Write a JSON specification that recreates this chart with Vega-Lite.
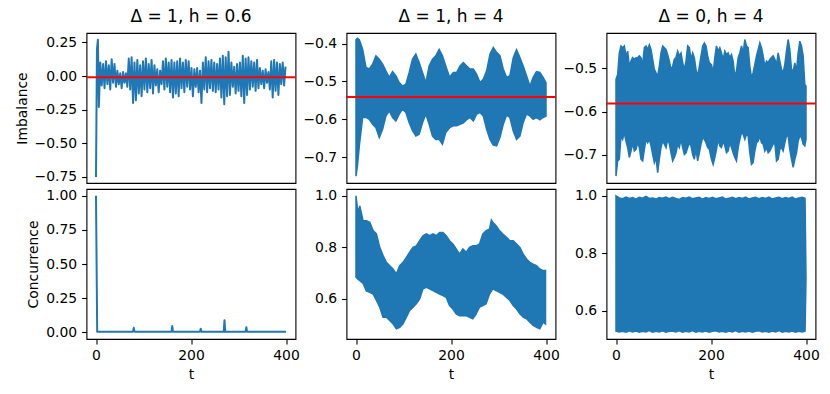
{
"$schema": "https://vega.github.io/schema/vega-lite/v6.json",
"background": "white",
"padding": {"left": 14.5, "top": 7, "right": 5, "bottom": 5},
"config": {
 "font": "DejaVu Sans",
 "view": {"stroke": "black", "strokeWidth": 1.1},
 "axis": {"grid": false, "domain": false, "labelFont": "DejaVu Sans", "labelFontSize": 13.9, "labelColor": "black", "labelOverlap": false, "labelBound": false, "tickColor": "black", "tickSize": 4.9, "tickWidth": 1.1, "labelPadding": 4.9, "labelFlush": false, "titleFont": "DejaVu Sans", "titleFontSize": 13.9, "titleFontWeight": "normal", "titleColor": "black", "titlePadding": 5},
 "title": {"font": "DejaVu Sans", "fontSize": 17, "fontWeight": "normal", "color": "black", "offset": 7}
},
"datasets": {
 "p1": [
{"t":0,"v":-0.75},{"t":2,"v":0.2},{"t":4,"v":0.27},{"t":6,"v":-0.23},
{"t":9,"v":0.10},{"t":12,"v":-0.07},{"t":15,"v":0.09},{"t":18,"v":-0.09},{"t":21,"v":0.11},{"t":24,"v":-0.06},{"t":27,"v":0.08},{"t":30,"v":-0.10},{"t":33,"v":0.125},{"t":36,"v":-0.05},{"t":39,"v":0.09},{"t":42,"v":-0.08},{"t":45,"v":0.04},{"t":48,"v":-0.06},{"t":51,"v":0.02},{"t":54,"v":-0.09},{"t":57,"v":0.03},{"t":60,"v":-0.05},{"t":63,"v":0.02},{"t":66,"v":-0.08},{"t":69,"v":0.13},{"t":72,"v":-0.10},{"t":75,"v":0.14},{"t":78,"v":-0.20},{"t":81,"v":0.10},{"t":84,"v":-0.18},{"t":87,"v":0.12},{"t":90,"v":-0.13},{"t":93,"v":0.08},{"t":96,"v":-0.15},{"t":99,"v":0.11},{"t":102,"v":-0.10},{"t":105,"v":0.13},{"t":108,"v":-0.12},{"t":111,"v":0.09},{"t":114,"v":-0.09},{"t":117,"v":0.12},{"t":120,"v":-0.13},{"t":123,"v":0.08},{"t":126,"v":-0.07},{"t":129,"v":0.05},{"t":132,"v":-0.12},{"t":135,"v":0.04},{"t":138,"v":-0.06},{"t":141,"v":0.11},{"t":144,"v":-0.10},{"t":147,"v":0.13},{"t":150,"v":-0.08},{"t":153,"v":0.10},{"t":156,"v":-0.12},{"t":159,"v":0.12},{"t":162,"v":-0.16},{"t":165,"v":0.10},{"t":168,"v":-0.13},{"t":171,"v":0.11},{"t":174,"v":-0.15},{"t":177,"v":0.13},{"t":180,"v":-0.09},{"t":183,"v":0.10},{"t":186,"v":-0.12},{"t":189,"v":0.12},{"t":192,"v":-0.08},{"t":195,"v":0.11},{"t":198,"v":-0.10},
{"t":201,"v":0.06},{"t":204,"v":-0.15},{"t":207,"v":0.05},{"t":210,"v":-0.08},{"t":213,"v":0.06},{"t":216,"v":-0.12},{"t":219,"v":0.04},{"t":222,"v":-0.20},{"t":225,"v":0.10},{"t":228,"v":-0.10},{"t":231,"v":0.14},{"t":234,"v":-0.12},{"t":237,"v":0.11},{"t":240,"v":-0.09},{"t":243,"v":0.12},{"t":246,"v":-0.11},{"t":249,"v":0.10},{"t":252,"v":-0.12},{"t":255,"v":0.09},{"t":258,"v":-0.10},{"t":261,"v":0.13},{"t":264,"v":-0.16},{"t":267,"v":0.15},{"t":270,"v":-0.21},{"t":273,"v":0.14},{"t":276,"v":-0.15},{"t":279,"v":0.18},{"t":282,"v":-0.14},{"t":285,"v":0.10},{"t":288,"v":-0.08},{"t":291,"v":0.07},{"t":294,"v":-0.13},{"t":297,"v":0.09},{"t":300,"v":-0.11},{"t":303,"v":0.10},{"t":306,"v":-0.15},{"t":309,"v":0.15},{"t":312,"v":-0.20},{"t":315,"v":0.13},{"t":318,"v":-0.14},{"t":321,"v":0.14},{"t":324,"v":-0.10},{"t":327,"v":0.11},{"t":330,"v":-0.08},{"t":333,"v":0.10},{"t":336,"v":-0.11},{"t":339,"v":0.12},{"t":342,"v":-0.09},{"t":345,"v":0.06},{"t":348,"v":-0.06},{"t":351,"v":0.04},{"t":354,"v":-0.09},{"t":357,"v":0.05},{"t":360,"v":-0.05},{"t":363,"v":0.03},{"t":366,"v":-0.10},{"t":369,"v":0.11},{"t":372,"v":-0.16},{"t":375,"v":0.12},{"t":378,"v":-0.11},{"t":381,"v":0.10},{"t":384,"v":-0.14},{"t":387,"v":0.09},{"t":390,"v":-0.06},{"t":393,"v":0.10},{"t":396,"v":-0.07},{"t":399,"v":0.07}
 ],
 "p2": [
{"t":0,"hi":-0.390,"lo":-0.750},{"t":3,"hi":-0.386,"lo":-0.723},{"t":7,"hi":-0.390,"lo":-0.670},{"t":14,"hi":-0.415,"lo":-0.595},{"t":21,"hi":-0.463,"lo":-0.595},{"t":28,"hi":-0.467,"lo":-0.600},{"t":35,"hi":-0.454,"lo":-0.613},{"t":42,"hi":-0.432,"lo":-0.622},{"t":49,"hi":-0.441,"lo":-0.648},{"t":56,"hi":-0.454,"lo":-0.626},{"t":63,"hi":-0.472,"lo":-0.591},{"t":70,"hi":-0.489,"lo":-0.578},{"t":77,"hi":-0.474,"lo":-0.595},{"t":84,"hi":-0.485,"lo":-0.604},{"t":91,"hi":-0.503,"lo":-0.586},{"t":98,"hi":-0.512,"lo":-0.573},{"t":105,"hi":-0.507,"lo":-0.582},{"t":112,"hi":-0.476,"lo":-0.609},{"t":119,"hi":-0.441,"lo":-0.630},{"t":126,"hi":-0.428,"lo":-0.644},{"t":133,"hi":-0.450,"lo":-0.639},{"t":140,"hi":-0.476,"lo":-0.609},{"t":147,"hi":-0.503,"lo":-0.586},{"t":154,"hi":-0.459,"lo":-0.613},{"t":161,"hi":-0.441,"lo":-0.644},{"t":168,"hi":-0.432,"lo":-0.653},{"t":175,"hi":-0.415,"lo":-0.653},{"t":182,"hi":-0.432,"lo":-0.666},{"t":189,"hi":-0.459,"lo":-0.635},{"t":197,"hi":-0.489,"lo":-0.622},{"t":205,"hi":-0.476,"lo":-0.617},{"t":212,"hi":-0.476,"lo":-0.617},{"t":219,"hi":-0.459,"lo":-0.613},{"t":226,"hi":-0.450,"lo":-0.609},{"t":233,"hi":-0.459,"lo":-0.601},{"t":240,"hi":-0.467,"lo":-0.595},{"t":247,"hi":-0.467,"lo":-0.604},{"t":254,"hi":-0.481,"lo":-0.586},{"t":261,"hi":-0.503,"lo":-0.582},{"t":268,"hi":-0.494,"lo":-0.591},{"t":275,"hi":-0.472,"lo":-0.626},{"t":282,"hi":-0.428,"lo":-0.653},{"t":289,"hi":-0.410,"lo":-0.668},{"t":296,"hi":-0.423,"lo":-0.670},{"t":303,"hi":-0.432,"lo":-0.648},{"t":310,"hi":-0.467,"lo":-0.613},{"t":317,"hi":-0.489,"lo":-0.589},{"t":324,"hi":-0.485,"lo":-0.595},{"t":331,"hi":-0.437,"lo":-0.631},{"t":338,"hi":-0.416,"lo":-0.653},{"t":345,"hi":-0.437,"lo":-0.644},{"t":352,"hi":-0.459,"lo":-0.608},{"t":359,"hi":-0.485,"lo":-0.586},{"t":366,"hi":-0.512,"lo":-0.591},{"t":373,"hi":-0.489,"lo":-0.600},{"t":380,"hi":-0.474,"lo":-0.595},{"t":387,"hi":-0.476,"lo":-0.601},{"t":394,"hi":-0.489,"lo":-0.595},{"t":400,"hi":-0.503,"lo":-0.591}
 ],
 "p3": [
{"t":0,"hi":-0.525,"lo":-0.749},{"t":3.5,"hi":-0.514,"lo":-0.714},{"t":7,"hi":-0.464,"lo":-0.710},{"t":10.5,"hi":-0.448,"lo":-0.656},{"t":14,"hi":-0.452,"lo":-0.664},{"t":17.5,"hi":-0.448,"lo":-0.649},{"t":21,"hi":-0.471,"lo":-0.668},{"t":24.6,"hi":-0.460,"lo":-0.683},{"t":28,"hi":-0.495,"lo":-0.706},{"t":31.6,"hi":-0.483,"lo":-0.691},{"t":35.1,"hi":-0.475,"lo":-0.672},{"t":38.6,"hi":-0.479,"lo":-0.691},{"t":42.1,"hi":-0.475,"lo":-0.687},{"t":45.6,"hi":-0.475,"lo":-0.672},{"t":49.1,"hi":-0.471,"lo":-0.683},{"t":52.6,"hi":-0.475,"lo":-0.710},{"t":56.1,"hi":-0.491,"lo":-0.714},{"t":59.7,"hi":-0.452,"lo":-0.687},{"t":63.2,"hi":-0.448,"lo":-0.664},{"t":66.7,"hi":-0.456,"lo":-0.672},{"t":70.2,"hi":-0.445,"lo":-0.664},{"t":73.7,"hi":-0.456,"lo":-0.679},{"t":77.2,"hi":-0.479,"lo":-0.699},{"t":80.7,"hi":-0.502,"lo":-0.718},{"t":84.2,"hi":-0.510,"lo":-0.706},{"t":87.7,"hi":-0.518,"lo":-0.741},{"t":91.2,"hi":-0.495,"lo":-0.710},{"t":94.7,"hi":-0.464,"lo":-0.683},{"t":98.3,"hi":-0.448,"lo":-0.668},{"t":101.8,"hi":-0.452,"lo":-0.675},{"t":105.3,"hi":-0.456,"lo":-0.683},{"t":108.8,"hi":-0.468,"lo":-0.664},{"t":112.3,"hi":-0.483,"lo":-0.675},{"t":115.8,"hi":-0.502,"lo":-0.695},{"t":119.3,"hi":-0.495,"lo":-0.714},{"t":122.8,"hi":-0.479,"lo":-0.706},{"t":126.3,"hi":-0.475,"lo":-0.695},{"t":129.8,"hi":-0.460,"lo":-0.675},{"t":133.3,"hi":-0.471,"lo":-0.683},{"t":136.9,"hi":-0.464,"lo":-0.664},{"t":140.4,"hi":-0.487,"lo":-0.683},{"t":143.9,"hi":-0.502,"lo":-0.699},{"t":147.4,"hi":-0.483,"lo":-0.695},{"t":150.9,"hi":-0.448,"lo":-0.683},{"t":154.4,"hi":-0.452,"lo":-0.672},{"t":157.9,"hi":-0.479,"lo":-0.679},{"t":161.4,"hi":-0.464,"lo":-0.699},{"t":164.9,"hi":-0.475,"lo":-0.710},{"t":168.4,"hi":-0.502,"lo":-0.687},{"t":171.9,"hi":-0.518,"lo":-0.714},{"t":175.5,"hi":-0.495,"lo":-0.695},{"t":179,"hi":-0.471,"lo":-0.675},{"t":182.5,"hi":-0.448,"lo":-0.660},{"t":186,"hi":-0.441,"lo":-0.664},{"t":189.5,"hi":-0.448,"lo":-0.672},{"t":193,"hi":-0.471,"lo":-0.683},{"t":196.5,"hi":-0.487,"lo":-0.687},{"t":201,"hi":-0.491,"lo":-0.710},{"t":204.5,"hi":-0.510,"lo":-0.722},{"t":208,"hi":-0.475,"lo":-0.706},{"t":211.5,"hi":-0.448,"lo":-0.687},{"t":215,"hi":-0.460,"lo":-0.664},{"t":218.6,"hi":-0.452,"lo":-0.679},{"t":222,"hi":-0.464,"lo":-0.683},{"t":225.6,"hi":-0.479,"lo":-0.668},{"t":229.1,"hi":-0.460,"lo":-0.679},{"t":232.6,"hi":-0.468,"lo":-0.695},{"t":236.1,"hi":-0.464,"lo":-0.691},{"t":239.6,"hi":-0.475,"lo":-0.672},{"t":243.1,"hi":-0.468,"lo":-0.683},{"t":246.6,"hi":-0.483,"lo":-0.695},{"t":250.1,"hi":-0.518,"lo":-0.706},{"t":253.6,"hi":-0.506,"lo":-0.714},{"t":257.2,"hi":-0.475,"lo":-0.683},{"t":260.7,"hi":-0.464,"lo":-0.664},{"t":264.2,"hi":-0.448,"lo":-0.649},{"t":267.7,"hi":-0.464,"lo":-0.652},{"t":271.2,"hi":-0.433,"lo":-0.664},{"t":274.7,"hi":-0.448,"lo":-0.652},{"t":278.2,"hi":-0.452,"lo":-0.656},{"t":281.7,"hi":-0.495,"lo":-0.695},{"t":285.2,"hi":-0.521,"lo":-0.722},{"t":288.7,"hi":-0.510,"lo":-0.718},{"t":292.2,"hi":-0.491,"lo":-0.691},{"t":295.8,"hi":-0.471,"lo":-0.672},{"t":299.3,"hi":-0.456,"lo":-0.668},{"t":302.8,"hi":-0.441,"lo":-0.656},{"t":306.3,"hi":-0.452,"lo":-0.672},{"t":309.8,"hi":-0.471,"lo":-0.675},{"t":313.3,"hi":-0.495,"lo":-0.691},{"t":316.8,"hi":-0.483,"lo":-0.683},{"t":320.3,"hi":-0.487,"lo":-0.695},{"t":323.8,"hi":-0.479,"lo":-0.691},{"t":327.3,"hi":-0.475,"lo":-0.683},{"t":330.8,"hi":-0.471,"lo":-0.675},{"t":334.4,"hi":-0.479,"lo":-0.672},{"t":337.9,"hi":-0.491,"lo":-0.714},{"t":341.4,"hi":-0.464,"lo":-0.710},{"t":344.9,"hi":-0.483,"lo":-0.687},{"t":348.4,"hi":-0.502,"lo":-0.683},{"t":351.9,"hi":-0.510,"lo":-0.691},{"t":355.4,"hi":-0.491,"lo":-0.672},{"t":358.9,"hi":-0.460,"lo":-0.656},{"t":362.4,"hi":-0.433,"lo":-0.656},{"t":365.9,"hi":-0.456,"lo":-0.687},{"t":369.4,"hi":-0.502,"lo":-0.710},{"t":373,"hi":-0.506,"lo":-0.729},{"t":376.5,"hi":-0.487,"lo":-0.710},{"t":380,"hi":-0.506,"lo":-0.695},{"t":383.5,"hi":-0.464,"lo":-0.668},{"t":387,"hi":-0.437,"lo":-0.656},{"t":390.5,"hi":-0.448,"lo":-0.660},{"t":394,"hi":-0.471,"lo":-0.675},{"t":397.5,"hi":-0.537,"lo":-0.679},{"t":400,"hi":-0.541,"lo":-0.664}
 ],
 "p4": [
{"t":0,"v":1.0},{"t":2.5,"v":0.004},{"t":78,"v":0.004},{"t":79.5,"v":0.032},{"t":81,"v":0.004},{"t":159,"v":0.004},{"t":160.5,"v":0.045},{"t":162,"v":0.004},{"t":219,"v":0.004},{"t":220.5,"v":0.025},{"t":222,"v":0.004},{"t":269,"v":0.004},{"t":270.5,"v":0.088},{"t":272,"v":0.004},{"t":315,"v":0.004},{"t":316.5,"v":0.036},{"t":318,"v":0.004},{"t":400,"v":0.004}
 ],
 "p5": [
{"t":0,"hi":1.0,"lo":0.684},{"t":4,"hi":0.935,"lo":0.677},{"t":8,"hi":0.961,"lo":0.671},{"t":15,"hi":0.903,"lo":0.660},{"t":22,"hi":0.903,"lo":0.630},{"t":29,"hi":0.897,"lo":0.626},{"t":36,"hi":0.865,"lo":0.619},{"t":43,"hi":0.852,"lo":0.594},{"t":50,"hi":0.800,"lo":0.568},{"t":57,"hi":0.768,"lo":0.529},{"t":64,"hi":0.742,"lo":0.529},{"t":71,"hi":0.729,"lo":0.516},{"t":78,"hi":0.716,"lo":0.503},{"t":85,"hi":0.697,"lo":0.484},{"t":92,"hi":0.729,"lo":0.490},{"t":99,"hi":0.742,"lo":0.503},{"t":106,"hi":0.761,"lo":0.529},{"t":113,"hi":0.781,"lo":0.555},{"t":120,"hi":0.800,"lo":0.568},{"t":127,"hi":0.806,"lo":0.581},{"t":134,"hi":0.826,"lo":0.600},{"t":141,"hi":0.845,"lo":0.639},{"t":148,"hi":0.852,"lo":0.645},{"t":155,"hi":0.845,"lo":0.639},{"t":162,"hi":0.852,"lo":0.632},{"t":169,"hi":0.845,"lo":0.626},{"t":176,"hi":0.858,"lo":0.619},{"t":183,"hi":0.858,"lo":0.613},{"t":190,"hi":0.845,"lo":0.606},{"t":197,"hi":0.826,"lo":0.574},{"t":204,"hi":0.813,"lo":0.561},{"t":211,"hi":0.794,"lo":0.542},{"t":218,"hi":0.774,"lo":0.535},{"t":225,"hi":0.794,"lo":0.535},{"t":232,"hi":0.781,"lo":0.535},{"t":239,"hi":0.800,"lo":0.529},{"t":246,"hi":0.806,"lo":0.523},{"t":253,"hi":0.806,"lo":0.542},{"t":260,"hi":0.813,"lo":0.568},{"t":267,"hi":0.852,"lo":0.574},{"t":274,"hi":0.865,"lo":0.581},{"t":281,"hi":0.871,"lo":0.619},{"t":285,"hi":0.906,"lo":0.630},{"t":288,"hi":0.897,"lo":0.639},{"t":295,"hi":0.884,"lo":0.632},{"t":302,"hi":0.865,"lo":0.626},{"t":309,"hi":0.852,"lo":0.619},{"t":317,"hi":0.839,"lo":0.606},{"t":324,"hi":0.826,"lo":0.594},{"t":331,"hi":0.826,"lo":0.574},{"t":338,"hi":0.813,"lo":0.561},{"t":345,"hi":0.800,"lo":0.542},{"t":352,"hi":0.774,"lo":0.529},{"t":359,"hi":0.755,"lo":0.523},{"t":366,"hi":0.742,"lo":0.510},{"t":373,"hi":0.735,"lo":0.497},{"t":380,"hi":0.729,"lo":0.490},{"t":387,"hi":0.716,"lo":0.484},{"t":394,"hi":0.710,"lo":0.510},{"t":399,"hi":0.710,"lo":0.503}
 ],
 "p6": [
{"t":0,"hi":1.000,"lo":0.530},{"t":7,"hi":0.993,"lo":0.527},{"t":14,"hi":0.990,"lo":0.529},{"t":21,"hi":0.996,"lo":0.526},{"t":28,"hi":0.991,"lo":0.531},{"t":35,"hi":0.994,"lo":0.527},{"t":42,"hi":0.989,"lo":0.530},{"t":49,"hi":0.995,"lo":0.526},{"t":56,"hi":0.992,"lo":0.529},{"t":63,"hi":0.998,"lo":0.527},{"t":70,"hi":0.991,"lo":0.532},{"t":77,"hi":0.993,"lo":0.526},{"t":84,"hi":0.989,"lo":0.529},{"t":91,"hi":0.994,"lo":0.527},{"t":98,"hi":0.992,"lo":0.531},{"t":105,"hi":0.996,"lo":0.526},{"t":112,"hi":0.990,"lo":0.529},{"t":119,"hi":0.995,"lo":0.530},{"t":126,"hi":0.991,"lo":0.527},{"t":133,"hi":0.988,"lo":0.531},{"t":140,"hi":0.994,"lo":0.526},{"t":147,"hi":0.992,"lo":0.529},{"t":154,"hi":0.996,"lo":0.527},{"t":161,"hi":0.990,"lo":0.532},{"t":168,"hi":0.993,"lo":0.526},{"t":175,"hi":0.995,"lo":0.529},{"t":182,"hi":0.989,"lo":0.527},{"t":189,"hi":0.994,"lo":0.530},{"t":196,"hi":0.991,"lo":0.526},{"t":203,"hi":0.995,"lo":0.529},{"t":210,"hi":0.990,"lo":0.531},{"t":217,"hi":0.993,"lo":0.527},{"t":224,"hi":0.996,"lo":0.529},{"t":231,"hi":0.989,"lo":0.526},{"t":238,"hi":0.992,"lo":0.530},{"t":245,"hi":0.995,"lo":0.527},{"t":252,"hi":0.990,"lo":0.532},{"t":259,"hi":0.994,"lo":0.526},{"t":266,"hi":0.991,"lo":0.529},{"t":273,"hi":0.996,"lo":0.527},{"t":280,"hi":0.989,"lo":0.530},{"t":287,"hi":0.993,"lo":0.526},{"t":294,"hi":0.995,"lo":0.529},{"t":301,"hi":0.990,"lo":0.531},{"t":308,"hi":0.994,"lo":0.527},{"t":315,"hi":0.991,"lo":0.529},{"t":322,"hi":0.996,"lo":0.526},{"t":329,"hi":0.989,"lo":0.530},{"t":336,"hi":0.993,"lo":0.527},{"t":343,"hi":0.995,"lo":0.532},{"t":350,"hi":0.990,"lo":0.526},{"t":357,"hi":0.994,"lo":0.529},{"t":364,"hi":0.991,"lo":0.527},{"t":371,"hi":0.996,"lo":0.530},{"t":378,"hi":0.989,"lo":0.526},{"t":385,"hi":0.993,"lo":0.529},{"t":392,"hi":0.995,"lo":0.527},{"t":398,"hi":0.992,"lo":0.530},{"t":400,"hi":0.715,"lo":0.715}
 ]
},
"columns": 3,
"spacing": {"row": 6, "column": 51},
"bounds": "flush",
"concat": [
 {
  "width": 209, "height": 150,
  "title": "Δ = 1, h = 0.6",
  "resolve": {"axis": {"y": "independent"}},
  "layer": [
   {"data": {"name": "p1"}, "mark": {"type": "line", "color": "#1f77b4", "strokeWidth": 2, "strokeJoin": "round"},
    "encoding": {
     "x": {"field": "t", "type": "quantitative", "scale": {"domain": [-20, 420], "nice": false, "zero": false}, "axis": null},
     "y": {"field": "v", "type": "quantitative", "scale": {"domain": [-0.795, 0.32], "nice": false, "zero": false}, "axis": {"values": [-0.75, -0.5, -0.25, 0, 0.25], "format": ".2f", "title": "Imbalance", "labelOverlap": false}}}},
   {"data": {"values": [{"m": -0.009}]}, "mark": {"type": "rule", "color": "#ff0000", "strokeWidth": 2},
    "encoding": {"y": {"field": "m", "type": "quantitative", "axis": null}}}
  ]
 },
 {
  "width": 209, "height": 150,
  "title": "Δ = 1, h = 4",
  "resolve": {"axis": {"y": "independent"}},
  "layer": [
   {"data": {"name": "p2"}, "mark": {"type": "area", "color": "#1f77b4", "stroke": "#1f77b4", "strokeWidth": 1.5, "opacity": 1},
    "encoding": {
     "x": {"field": "t", "type": "quantitative", "scale": {"domain": [-20, 420], "nice": false, "zero": false}, "axis": null},
     "y": {"field": "hi", "type": "quantitative", "scale": {"domain": [-0.768, -0.372], "nice": false, "zero": false}, "axis": {"values": [-0.7, -0.6, -0.5, -0.4], "format": ".1f", "title": null, "labelOverlap": false}},
     "y2": {"field": "lo"}}},
   {"data": {"values": [{"m": -0.541}]}, "mark": {"type": "rule", "color": "#ff0000", "strokeWidth": 2},
    "encoding": {"y": {"field": "m", "type": "quantitative", "axis": null}}}
  ]
 },
 {
  "width": 209, "height": 150,
  "title": "Δ = 0, h = 4",
  "resolve": {"axis": {"y": "independent"}},
  "layer": [
   {"data": {"name": "p3"}, "mark": {"type": "area", "color": "#1f77b4", "stroke": "#1f77b4", "strokeWidth": 1.5, "opacity": 1},
    "encoding": {
     "x": {"field": "t", "type": "quantitative", "scale": {"domain": [-20, 420], "nice": false, "zero": false}, "axis": null},
     "y": {"field": "hi", "type": "quantitative", "scale": {"domain": [-0.765, -0.418], "nice": false, "zero": false}, "axis": {"values": [-0.7, -0.6, -0.5], "format": ".1f", "title": null, "labelOverlap": false}},
     "y2": {"field": "lo"}}},
   {"data": {"values": [{"m": -0.581}]}, "mark": {"type": "rule", "color": "#ff0000", "strokeWidth": 2},
    "encoding": {"y": {"field": "m", "type": "quantitative", "axis": null}}}
  ]
 },
 {
  "width": 209, "height": 150,
  "data": {"name": "p4"},
  "mark": {"type": "line", "color": "#1f77b4", "strokeWidth": 2, "strokeJoin": "round"},
  "encoding": {
   "x": {"field": "t", "type": "quantitative", "scale": {"domain": [-20, 420], "nice": false, "zero": false}, "axis": {"values": [0, 200, 400], "format": "d", "title": "t", "labelOverlap": false}},
   "y": {"field": "v", "type": "quantitative", "scale": {"domain": [-0.05, 1.05], "nice": false, "zero": false}, "axis": {"values": [0, 0.25, 0.5, 0.75, 1], "format": ".2f", "title": "Concurrence", "labelOverlap": false}}}
 },
 {
  "width": 209, "height": 150,
  "data": {"name": "p5"},
  "mark": {"type": "area", "color": "#1f77b4", "stroke": "#1f77b4", "strokeWidth": 1.5, "opacity": 1},
  "encoding": {
   "x": {"field": "t", "type": "quantitative", "scale": {"domain": [-20, 420], "nice": false, "zero": false}, "axis": {"values": [0, 200, 400], "format": "d", "title": "t", "labelOverlap": false}},
   "y": {"field": "hi", "type": "quantitative", "scale": {"domain": [0.4445, 1.0265], "nice": false, "zero": false}, "axis": {"values": [0.6, 0.8, 1.0], "format": ".1f", "title": null, "labelOverlap": false}},
   "y2": {"field": "lo"}}
 },
 {
  "width": 209, "height": 150,
  "data": {"name": "p6"},
  "mark": {"type": "area", "color": "#1f77b4", "stroke": "#1f77b4", "strokeWidth": 1.5, "opacity": 1},
  "encoding": {
   "x": {"field": "t", "type": "quantitative", "scale": {"domain": [-20, 420], "nice": false, "zero": false}, "axis": {"values": [0, 200, 400], "format": "d", "title": "t", "labelOverlap": false}},
   "y": {"field": "hi", "type": "quantitative", "scale": {"domain": [0.5025, 1.024], "nice": false, "zero": false}, "axis": {"values": [0.6, 0.8, 1.0], "format": ".1f", "title": null, "labelOverlap": false}},
   "y2": {"field": "lo"}}
 }
]
}
